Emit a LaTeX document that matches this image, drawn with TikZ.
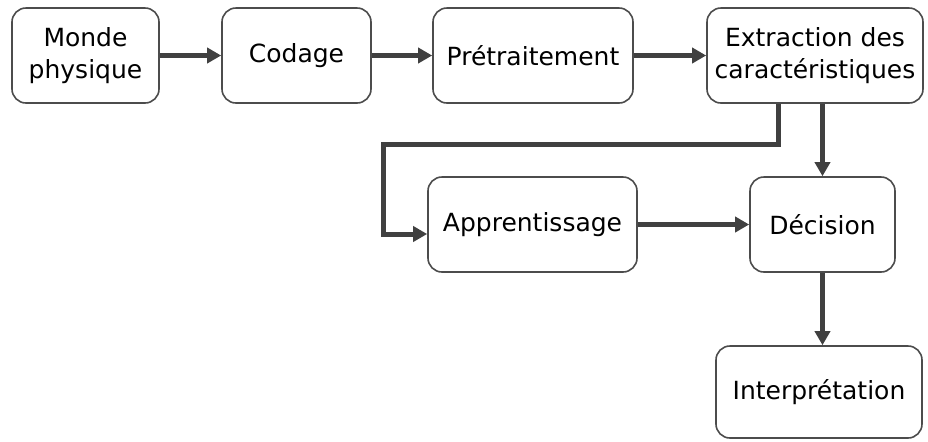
\documentclass[tikz,border=0pt]{standalone}
\usepackage{fontspec}
\setmainfont{DejaVu Sans}
\usetikzlibrary{arrows.meta}

\begin{document}
\begin{tikzpicture}[x=0.5pt,y=-0.5pt,
    box/.style={draw=black!70,line width=0.8pt,rounded corners=7pt,align=center,
      inner sep=0pt,minimum height=47.5pt,font=\fontsize{12.5}{16}\selectfont},
    flow/.style={-{Triangle[length=7pt,width=7.5pt]},line width=2.5pt,draw=black!75}]
    \useasboundingbox (0,0) rectangle (928,441);

    % First row
    \node[box,minimum width=73.5pt] (monde) at (85.5,55.5) {Monde\\physique};
    \node[box,minimum width=74.5pt] (codage) at (296.5,55.5) {Codage};
    \node[box,minimum width=100pt] (pretrait) at (533,55.5) {Prétraitement};
    \node[box,minimum width=108pt] (extraction) at (815,55.5) {Extraction des\\caractéristiques};

    % Second row
    \node[box,minimum width=104.5pt] (apprent) at (532.5,224.5) {Apprentissage};
    \node[box,minimum width=72.5pt] (decision) at (822.5,224.5) {Décision};

    % Last box
    \node[box,minimum width=103pt,minimum height=46pt] (interp) at (819,392) {Interprétation};

    % Chain of the first row
    \draw[flow] (monde) -- (codage);
    \draw[flow] (codage) -- (pretrait);
    \draw[flow] (pretrait) -- (extraction);

    % Features towards learning
    \coordinate (split) at (778,144);
    \coordinate (bend) at (383,144);
    \draw[flow] (split |- extraction.south) -- (split) -- (bend) |- ([yshift=-4.75pt]apprent.west);

    % Features towards decision
    \draw[flow] (decision |- extraction.south) -- (decision.north);
    \draw[flow] (apprent) -- (decision);

    % Decision to interpretation
    \draw[flow] (decision.south) -- (decision.south |- interp.north);
  \end{tikzpicture}
\end{document}
